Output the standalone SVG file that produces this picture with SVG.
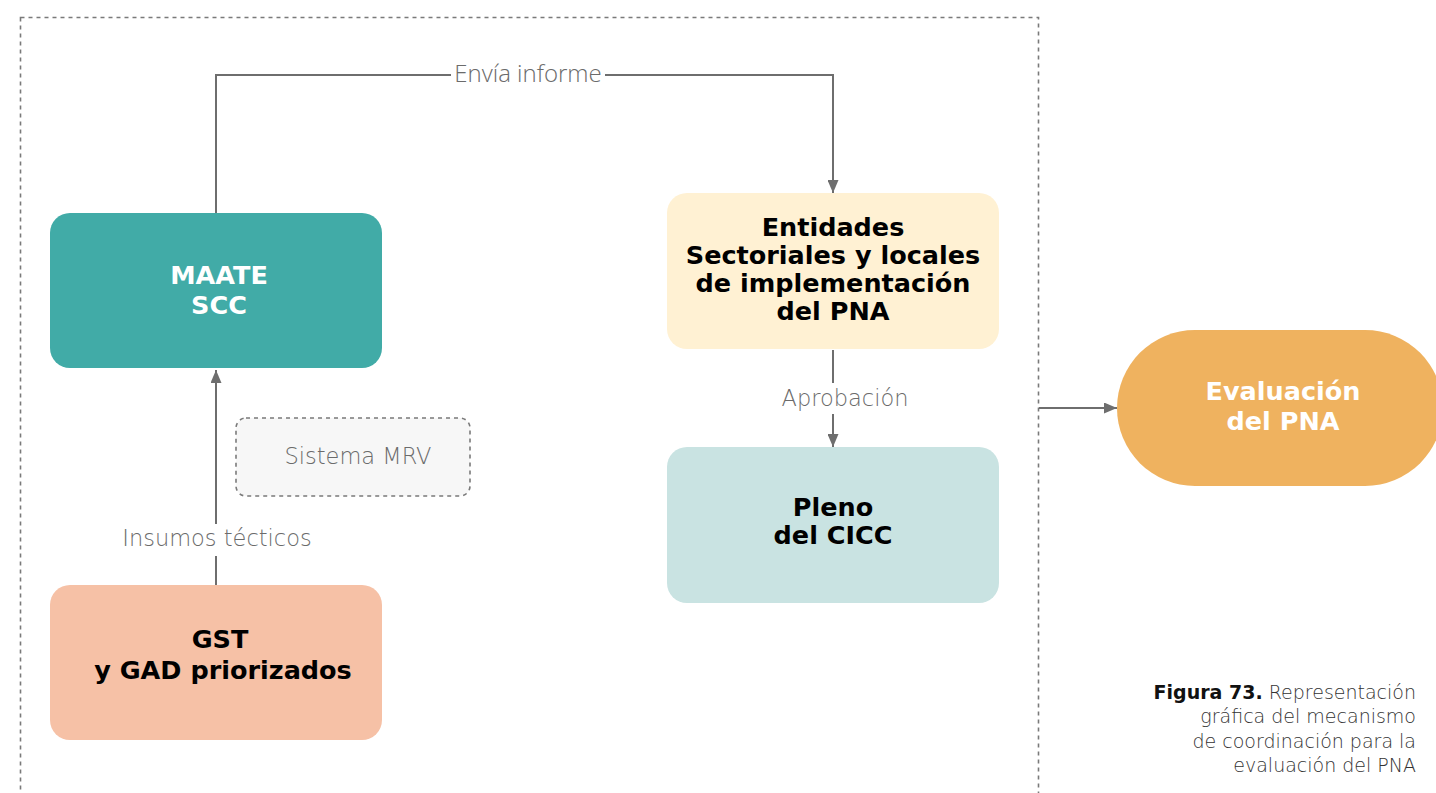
<svg xmlns="http://www.w3.org/2000/svg" width="1436" height="793" viewBox="0 0 1436 793">
<style>
.box{stroke:none}
.bold{font-family:"DejaVu Sans","Liberation Sans",sans-serif;font-weight:bold;font-size:25.5px;text-anchor:middle}
.lbl{font-family:"DejaVu Sans","Liberation Sans",sans-serif;font-weight:200;font-size:22.5px;fill:#6b6b6b;text-anchor:middle}
.env{font-family:"Open Sans","Liberation Sans",sans-serif;font-weight:300;font-size:24px;fill:#6b6b6b;text-anchor:middle}
.conn{fill:none;stroke:#6e6e6e;stroke-width:2}
.dash{fill:none;stroke:#7a7a7a;stroke-width:1.6;stroke-dasharray:4 4}
.cap{font-family:"DejaVu Sans","Liberation Sans",sans-serif;font-weight:200;font-size:19px;fill:#333;text-anchor:end}
</style>
<defs>
<marker id="arr" viewBox="0 0 13 11" refX="13" refY="5.5" markerWidth="13" markerHeight="11" markerUnits="userSpaceOnUse" orient="auto">
<path d="M0,0 L13,5.5 L0,11 Z" fill="#6e6e6e"/>
</marker>
</defs>
<rect width="1436" height="793" fill="#ffffff"/>
<rect id="container" class="dash" x="20.5" y="17.5" width="1018" height="800"/>
<g id="connectors">
<path class="conn" d="M216,213 V75 H451"/>
<path class="conn" d="M605,75 H833 V193" marker-end="url(#arr)"/>
<path class="conn" d="M833,350 V383"/>
<path class="conn" d="M833,414 V447" marker-end="url(#arr)"/>
<path class="conn" d="M216,585 V556"/>
<path class="conn" d="M216,524 V370" marker-end="url(#arr)"/>
<path class="conn" d="M1039,408 H1117" marker-end="url(#arr)"/>
<text class="env" x="528" y="82">Envía informe</text>
<text class="lbl" x="845" y="406">Aprobación</text>
<text class="lbl" x="217" y="546">Insumos técticos</text>
</g>
<g id="maate">
<rect class="box" x="50" y="213" width="332" height="155" rx="20" fill="#41aba7"/>
<text class="bold" fill="#ffffff"><tspan x="219" y="284">MAATE</tspan><tspan x="219" y="314">SCC</tspan></text>
</g>
<g id="entidades">
<rect class="box" x="667" y="193" width="332" height="156" rx="20" fill="#fff1d3"/>
<text class="bold" fill="#000"><tspan x="833" y="236">Entidades</tspan><tspan x="833" y="264">Sectoriales y locales</tspan><tspan x="833" y="292">de implementación</tspan><tspan x="833" y="320">del PNA</tspan></text>
</g>
<g id="pleno">
<rect class="box" x="667" y="447" width="332" height="156" rx="20" fill="#c9e3e2"/>
<text class="bold" fill="#000"><tspan x="833" y="516">Pleno</tspan><tspan x="833" y="544">del CICC</tspan></text>
</g>
<g id="mrv">
<rect x="236" y="418" width="234" height="78" rx="10" fill="#f7f7f7" stroke="#7a7a7a" stroke-width="1.6" stroke-dasharray="4 4"/>
<text class="lbl" x="358" y="464">Sistema MRV</text>
</g>
<g id="gst">
<rect class="box" x="50" y="585" width="332" height="155" rx="20" fill="#f6c1a6"/>
<text class="bold" fill="#000"><tspan x="220" y="648">GST</tspan><tspan x="223" y="679">y GAD priorizados</tspan></text>
</g>
<g id="evaluacion">
<rect class="box" x="1117" y="330" width="326" height="156" rx="78" fill="#efb25f"/>
<text class="bold" fill="#ffffff"><tspan x="1283" y="400">Evaluación</tspan><tspan x="1283" y="430">del PNA</tspan></text>
</g>
<g id="caption">
<text class="cap"><tspan x="1416" y="699"><tspan font-weight="bold" fill="#111">Figura 73.</tspan> Representación</tspan><tspan x="1416" y="723">gráfica del mecanismo</tspan><tspan x="1416" y="748">de coordinación para la</tspan><tspan x="1416" y="772">evaluación del PNA</tspan></text>
</g>
</svg>
